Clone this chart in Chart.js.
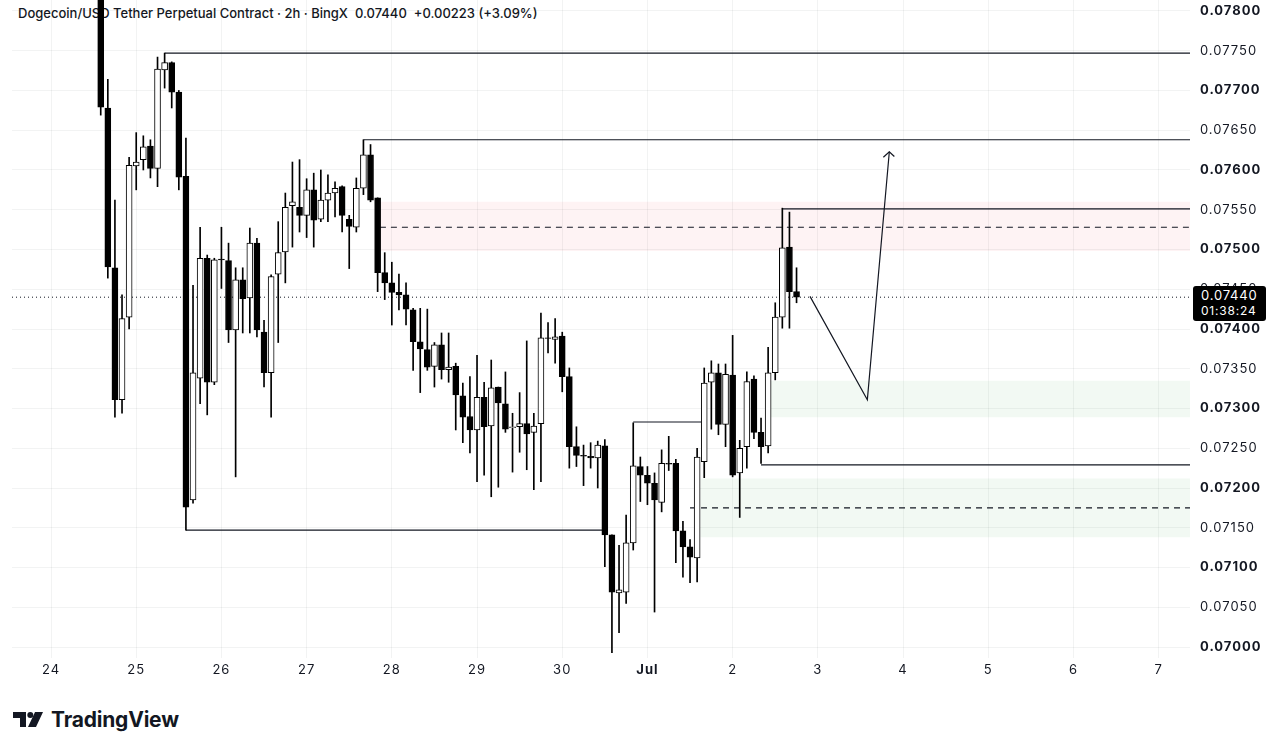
<!DOCTYPE html>
<html>
<head>
<meta charset="utf-8">
<title>DOGEUSDT 2h</title>
<script src="https://cdn.jsdelivr.net/npm/chart.js"></script>
<style>
  html, body { margin: 0; padding: 0; background: #fff; width: 1280px; height: 748px; overflow: hidden; }
  #wrap { position: relative; width: 1280px; height: 748px; }
  #title { position: absolute; left: 18px; top: 5px; z-index: 0; white-space: pre;
           font: 500 13px Inter, "Noto Sans", sans-serif; color: #131722; }
  #chartBox { position: absolute; left: 0; top: 0; width: 1280px; height: 700px; z-index: 1; }
  #lastPrice { position: absolute; left: 1193px; top: 286px; width: 73px; height: 35px; z-index: 2;
               background: #000; border-radius: 3px; color: #fff; font-family: Inter, sans-serif;
               box-sizing: border-box; padding: 2px 0 0 8px; line-height: 15px; }
  #lastPrice .p { font-size: 13px; letter-spacing: 0.8px; }
  #lastPrice .t { font-size: 12px; letter-spacing: 0.8px; }
  #logo { position: absolute; left: 13px; top: 707px; z-index: 2; display: flex; align-items: center; }
  #logo span { font: 700 21px Inter, sans-serif; color: #131722; margin-left: 8px; letter-spacing: -0.2px; }
</style>
</head>
<body>
<div id="wrap">
  <div id="title">Dogecoin/USD Tether Perpetual Contract · 2h · BingX  0.07440  +0.00223 (+3.09%)</div>
  <div id="chartBox"><canvas id="chart" width="1280" height="700"></canvas></div>
  <div id="lastPrice"><div class="p">0.07440</div><div class="t">01:38:24</div></div>
  <div id="logo">
    <svg width="30" height="15" viewBox="0 0 30 15">
      <path d="M0 0 H13 V15 H7 V6 H0 Z" fill="#131722"/>
      <circle cx="17.3" cy="3" r="3" fill="#131722"/>
      <path d="M22 0 H30 L23 15 H15 Z" fill="#131722"/>
    </svg>
    <span>TradingView</span>
  </div>
</div>
<script>
// first candle: Jun 24 14:00, one candle every 2 hours (x unit = day of month, Jul 1 = 31)
const candleStart = 24 + 14 / 24;
const candleStep = 2 / 24;

const opens = [
  0.07830, 0.07678, 0.07477, 0.07311, 0.07415, 0.07605, 0.07613, 0.07630, 0.07602, 0.07726,
  0.07735, 0.07698, 0.07592, 0.07185, 0.07338, 0.07489, 0.07333, 0.07488, 0.07486, 0.07399,
  0.07462, 0.07439, 0.07508, 0.07396, 0.07345, 0.07469, 0.07497, 0.07555, 0.07553, 0.07543,
  0.07575, 0.07538, 0.07562, 0.07571, 0.07579, 0.07538, 0.07528, 0.07577, 0.07619, 0.07565,
  0.07471, 0.07458, 0.07446, 0.07443, 0.07424, 0.07384, 0.07374, 0.07353, 0.07380, 0.07349,
  0.07353, 0.07316, 0.07290, 0.07273, 0.07314, 0.07278, 0.07327, 0.07306, 0.07276, 0.07277,
  0.07281, 0.07270, 0.07281, 0.07389, 0.07387, 0.07391, 0.07340, 0.07252, 0.07241, 0.07240,
  0.07238, 0.07253, 0.07141, 0.07068, 0.07069, 0.07131, 0.07227, 0.07216, 0.07206, 0.07182,
  0.07231, 0.07231, 0.07146, 0.07126, 0.07112, 0.07233, 0.07333, 0.07345, 0.07280, 0.07342,
  0.07219, 0.07252, 0.07337, 0.07270, 0.07253, 0.07345, 0.07415, 0.07503, 0.07447
];
const highs = [
  0.07870, 0.07714, 0.07562, 0.07443, 0.07616, 0.07647, 0.07643, 0.07638, 0.07742, 0.07747,
  0.07736, 0.07700, 0.07640, 0.07455, 0.07528, 0.07493, 0.07489, 0.07528, 0.07508, 0.07477,
  0.07477, 0.07527, 0.07514, 0.07411, 0.07468, 0.07535, 0.07571, 0.07610, 0.07613, 0.07589,
  0.07596, 0.07600, 0.07594, 0.07585, 0.07580, 0.07543, 0.07590, 0.07638, 0.07632, 0.07565,
  0.07496, 0.07484, 0.07469, 0.07458, 0.07426, 0.07426, 0.07425, 0.07383, 0.07395, 0.07395,
  0.07357, 0.07332, 0.07340, 0.07367, 0.07333, 0.07361, 0.07327, 0.07346, 0.07294, 0.07320,
  0.07385, 0.07294, 0.07420, 0.07408, 0.07413, 0.07396, 0.07351, 0.07277, 0.07254, 0.07257,
  0.07259, 0.07261, 0.07141, 0.07128, 0.07166, 0.07282, 0.07239, 0.07227, 0.07219, 0.07248,
  0.07265, 0.07236, 0.07158, 0.07135, 0.07250, 0.07351, 0.07360, 0.07356, 0.07356, 0.07392,
  0.07260, 0.07346, 0.07341, 0.07288, 0.07377, 0.07433, 0.07552, 0.07547, 0.07477
];
const lows = [
  0.07669, 0.07464, 0.07289, 0.07294, 0.07400, 0.07575, 0.07600, 0.07590, 0.07579, 0.07703,
  0.07678, 0.07575, 0.07147, 0.07181, 0.07306, 0.07292, 0.07330, 0.07451, 0.07383, 0.07214,
  0.07395, 0.07395, 0.07390, 0.07327, 0.07289, 0.07383, 0.07458, 0.07503, 0.07522, 0.07515,
  0.07503, 0.07535, 0.07535, 0.07541, 0.07522, 0.07476, 0.07522, 0.07569, 0.07560, 0.07447,
  0.07437, 0.07405, 0.07424, 0.07405, 0.07348, 0.07320, 0.07348, 0.07327, 0.07337, 0.07333,
  0.07273, 0.07257, 0.07244, 0.07208, 0.07216, 0.07189, 0.07201, 0.07270, 0.07220, 0.07245,
  0.07223, 0.07198, 0.07208, 0.07370, 0.07357, 0.07321, 0.07225, 0.07227, 0.07203, 0.07225,
  0.07200, 0.07101, 0.06993, 0.07018, 0.07055, 0.07122, 0.07183, 0.07179, 0.07044, 0.07170,
  0.07222, 0.07106, 0.07088, 0.07081, 0.07082, 0.07213, 0.07274, 0.07267, 0.07252, 0.07214,
  0.07163, 0.07225, 0.07262, 0.07231, 0.07244, 0.07336, 0.07401, 0.07401, 0.07433
];
const closes = [
  0.07679, 0.07478, 0.07311, 0.07413, 0.07606, 0.07610, 0.07629, 0.07602, 0.07727, 0.07735,
  0.07698, 0.07591, 0.07176, 0.07345, 0.07489, 0.07333, 0.07487, 0.07487, 0.07399, 0.07462,
  0.07438, 0.07508, 0.07399, 0.07345, 0.07466, 0.07496, 0.07553, 0.07560, 0.07543, 0.07575,
  0.07537, 0.07562, 0.07571, 0.07577, 0.07543, 0.07529, 0.07577, 0.07619, 0.07562, 0.07471,
  0.07458, 0.07446, 0.07443, 0.07425, 0.07384, 0.07375, 0.07352, 0.07380, 0.07349, 0.07352,
  0.07317, 0.07289, 0.07273, 0.07314, 0.07277, 0.07326, 0.07307, 0.07274, 0.07277, 0.07281,
  0.07268, 0.07278, 0.07389, 0.07388, 0.07390, 0.07340, 0.07252, 0.07241, 0.07240, 0.07238,
  0.07254, 0.07141, 0.07069, 0.07072, 0.07131, 0.07228, 0.07216, 0.07206, 0.07185, 0.07231,
  0.07230, 0.07146, 0.07126, 0.07113, 0.07239, 0.07332, 0.07345, 0.07280, 0.07343, 0.07216,
  0.07250, 0.07334, 0.07270, 0.07252, 0.07345, 0.07415, 0.07502, 0.07447, 0.07440
];

const dayTicks = [24, 25, 26, 27, 28, 29, 30, 31, 32, 33, 34, 35, 36, 37];
const dayLabels = ['24', '25', '26', '27', '28', '29', '30', 'Jul', '2', '3', '4', '5', '6', '7'];
const priceTicks = [0.0700, 0.0705, 0.0710, 0.0715, 0.0720, 0.0725, 0.0730, 0.0735,
                    0.0740, 0.0745, 0.0750, 0.0755, 0.0760, 0.0765, 0.0770, 0.0775, 0.0780];
const lastPrice = 0.07440;

const xMin = 23.542, xMax = 37.368;
const yMin = 0.069862, yMax = 0.078138;

// drawn levels: [from day, to day, price]
const solidLevels = [
  [25.333, xMax, 0.07747],
  [27.667, xMax, 0.07638],
  [32.583, xMax, 0.07551],
  [32.333, xMax, 0.07229],
  [30.833, 31.652, 0.07283],
  [25.583, 30.5, 0.07147]
];
const dashedLevels = [
  [27.86, xMax, 0.07528],
  [31.5, xMax, 0.07175]
];
// zones: [from day, to day, low, high]
const supplyZone = [27.86, xMax, 0.07498, 0.07560];
const demandZones = [
  [32.44, xMax, 0.07289, 0.07335],
  [31.62, xMax, 0.07138, 0.07212]
];
// projected path and arrow head
const pathDays = [32.908, 33.581, 33.839];
const pathPrices = [0.07441, 0.07311, 0.07623];
const headDays = [33.769, 33.839, 33.898];
const headPrices = [0.07616, 0.07623, 0.07617];

const candleDays = opens.map((_, i) => candleStart + i * candleStep);
const ink = '#131722';

const datasets = [];
datasets.push({
  type: 'bar',
  data: candleDays.map((d, i) => ({ x: d, y: [opens[i], closes[i]] })),
  backgroundColor: opens.map((o, i) => closes[i] >= o ? '#ffffff' : '#000000'),
  borderColor: '#000000',
  borderWidth: 1,
  borderSkipped: false,
  barThickness: 6,
  grouped: false
});
datasets.push({
  type: 'bar',
  data: candleDays.map((d, i) => ({ x: d, y: [lows[i], highs[i]] })),
  backgroundColor: '#000000',
  borderWidth: 0,
  barThickness: 1,
  grouped: false
});
solidLevels.forEach(l => datasets.push({
  type: 'line',
  data: [{ x: l[0], y: l[2] }, { x: l[1], y: l[2] }],
  borderColor: ink, borderWidth: 1.2, pointRadius: 0, fill: false
}));
dashedLevels.forEach(l => datasets.push({
  type: 'line',
  data: [{ x: l[0], y: l[2] }, { x: l[1], y: l[2] }],
  borderColor: ink, borderWidth: 1.2, borderDash: [6, 5], pointRadius: 0, fill: false
}));
datasets.push({
  type: 'line',
  data: pathDays.map((d, i) => ({ x: d, y: pathPrices[i] })),
  borderColor: ink, borderWidth: 1.2, pointRadius: 0, fill: false
});
datasets.push({
  type: 'line',
  data: headDays.map((d, i) => ({ x: d, y: headPrices[i] })),
  borderColor: ink, borderWidth: 1.2, pointRadius: 0, fill: false
});
datasets.push({
  type: 'line',
  data: [{ x: xMin, y: lastPrice }, { x: xMax, y: lastPrice }],
  borderColor: ink, borderWidth: 1, borderDash: [1, 3], pointRadius: 0, fill: false
});
datasets.push({
  type: 'line',
  data: [{ x: supplyZone[0], y: supplyZone[3] }, { x: supplyZone[1], y: supplyZone[3] }],
  borderWidth: 0, pointRadius: 0,
  fill: { value: supplyZone[2] },
  backgroundColor: 'rgba(242, 54, 69, 0.06)'
});
demandZones.forEach(z => datasets.push({
  type: 'line',
  data: [{ x: z[0], y: z[3] }, { x: z[1], y: z[3] }],
  borderWidth: 0, pointRadius: 0,
  fill: { value: z[2] },
  backgroundColor: 'rgba(76, 175, 80, 0.07)'
}));

const gridColor = 'rgba(42, 46, 57, 0.06)';

// wider tick text, like the screenshot
const spacing = {
  id: 'spacing',
  beforeDraw: c => { c.ctx.letterSpacing = '1px'; }
};

new Chart(document.getElementById('chart'), {
  type: 'bar',
  data: { datasets: datasets },
  plugins: [spacing],
  options: {
    responsive: false,
    animation: false,
    layout: { padding: { left: 12, top: 0, right: 0, bottom: 0 } },
    plugins: { legend: { display: false }, tooltip: { enabled: false } },
    scales: {
      x: {
        type: 'linear',
        min: xMin, max: xMax,
        offset: false,
        afterFit: s => { s.height = 42; s.paddingLeft = 0; s.paddingRight = 0; },
        afterBuildTicks: s => { s.ticks = dayTicks.map(v => ({ value: v })); },
        grid: { color: gridColor, drawTicks: false, offset: false },
        border: { display: false },
        ticks: {
          padding: 4,
          maxRotation: 0,
          autoSkip: false,
          color: ink,
          font: ctx => ({ family: 'Inter', size: 13, weight: ctx.tick && ctx.tick.value === 31 ? 'bold' : 'normal' }),
          callback: v => dayLabels[dayTicks.indexOf(v)]
        }
      },
      y: {
        type: 'linear',
        position: 'right',
        min: yMin, max: yMax,
        afterFit: s => { s.width = 90; s.paddingTop = 0; s.paddingBottom = 0; },
        afterBuildTicks: s => { s.ticks = priceTicks.map(v => ({ value: v })); },
        grid: { color: gridColor, drawTicks: false },
        border: { display: false },
        ticks: {
          padding: 10,
          color: ink,
          font: ctx => ({ family: 'Inter', size: 13,
            weight: ctx.tick && Math.round(ctx.tick.value * 10000) % 10 === 0 ? 'bold' : 'normal' }),
          callback: v => v.toFixed(5)
        }
      }
    }
  }
});
</script>
</body>
</html>
